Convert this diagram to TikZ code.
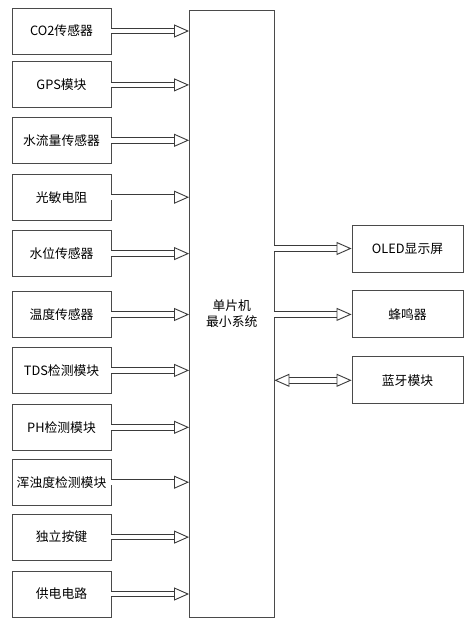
\documentclass[tikz,border=0pt]{standalone}
\usepackage{fontspec}
\setmainfont{Noto Sans CJK SC}
\usepackage{xcolor}
\usepackage{tikz}
\usetikzlibrary{arrows.meta,positioning,calc}
\definecolor{cLine}{HTML}{3A3A3A}
\definecolor{cBox}{HTML}{4A4A4A}
\tikzset{
  blk/.style={draw=cBox, line width=0.9pt, fill=white, text=black, align=center,
              font=\fontsize{12.8pt}{15.5pt}\selectfont, inner sep=1pt,
              minimum width=#1, minimum height=46pt},
  blk/.default=99pt,
  flow/.style={double=white, double distance=4.6pt, line width=0.9pt, draw=cLine,
               -{Triangle[open, fill=white, length=15pt, width=13pt]}},
  bothflow/.style={flow, {Triangle[open, fill=white, length=15pt, width=13pt]}-{Triangle[open, fill=white, length=15pt, width=13pt]}},
}
\begin{document}
\begin{tikzpicture}
  \useasboundingbox (0pt,0pt) rectangle (470pt,-623pt);
  % the microcontroller in the middle
  \node[blk=84.5pt, minimum height=607pt] (mcu) at (231.75pt,-313.5pt) {单片机\\最小系统};
  % sensor and input modules --- left column
  \node[blk] (co2) at (61.5pt,-31pt) {CO2传感器};
  \node[blk, below=7pt of co2] (gps) {GPS模块};
  \node[blk, below=8.5pt of gps] (flux) {水流量传感器};
  \node[blk, below=10pt of flux] (light) {光敏电阻};
  \node[blk, below=9.5pt of light] (level) {水位传感器};
  \node[blk, below=14pt of level] (temp) {温度传感器};
  \node[blk, below=9pt of temp] (tds) {TDS检测模块};
  \node[blk, below=10pt of tds] (ph) {PH检测模块};
  \node[blk, below=8pt of ph] (turb) {浑浊度检测模块};
  \node[blk, below=8pt of turb] (key) {独立按键};
  \node[blk, below=10pt of key] (power) {供电电路};
  \draw[flow] (co2) -- (co2 -| mcu.west);
  \draw[flow] (gps) -- (gps -| mcu.west);
  \draw[flow] (flux) -- (flux -| mcu.west);
  \draw[flow] (light) -- (light -| mcu.west);
  \draw[flow] (level) -- (level -| mcu.west);
  \draw[flow] (temp) -- (temp -| mcu.west);
  \draw[flow] (tds) -- (tds -| mcu.west);
  \draw[flow] (ph) -- (ph -| mcu.west);
  \draw[flow] (turb) -- (turb -| mcu.west);
  \draw[flow] (key) -- (key -| mcu.west);
  \draw[flow] (power) -- (power -| mcu.west);
  % outputs --- right column
  \node[blk=111pt, minimum height=47pt] (oled) at (407.5pt,-248.5pt) {OLED显示屏};
  \node[blk=111pt, minimum height=47pt, below=18pt of oled] (buzz) {蜂鸣器};
  \node[blk=111pt, minimum height=47pt, below=18pt of buzz] (bt) {蓝牙模块};
  \draw[flow] (oled -| mcu.east) -- (oled);
  \draw[flow] (buzz -| mcu.east) -- (buzz);
  \draw[bothflow] (bt -| mcu.east) -- (bt);
\end{tikzpicture}
\end{document}
